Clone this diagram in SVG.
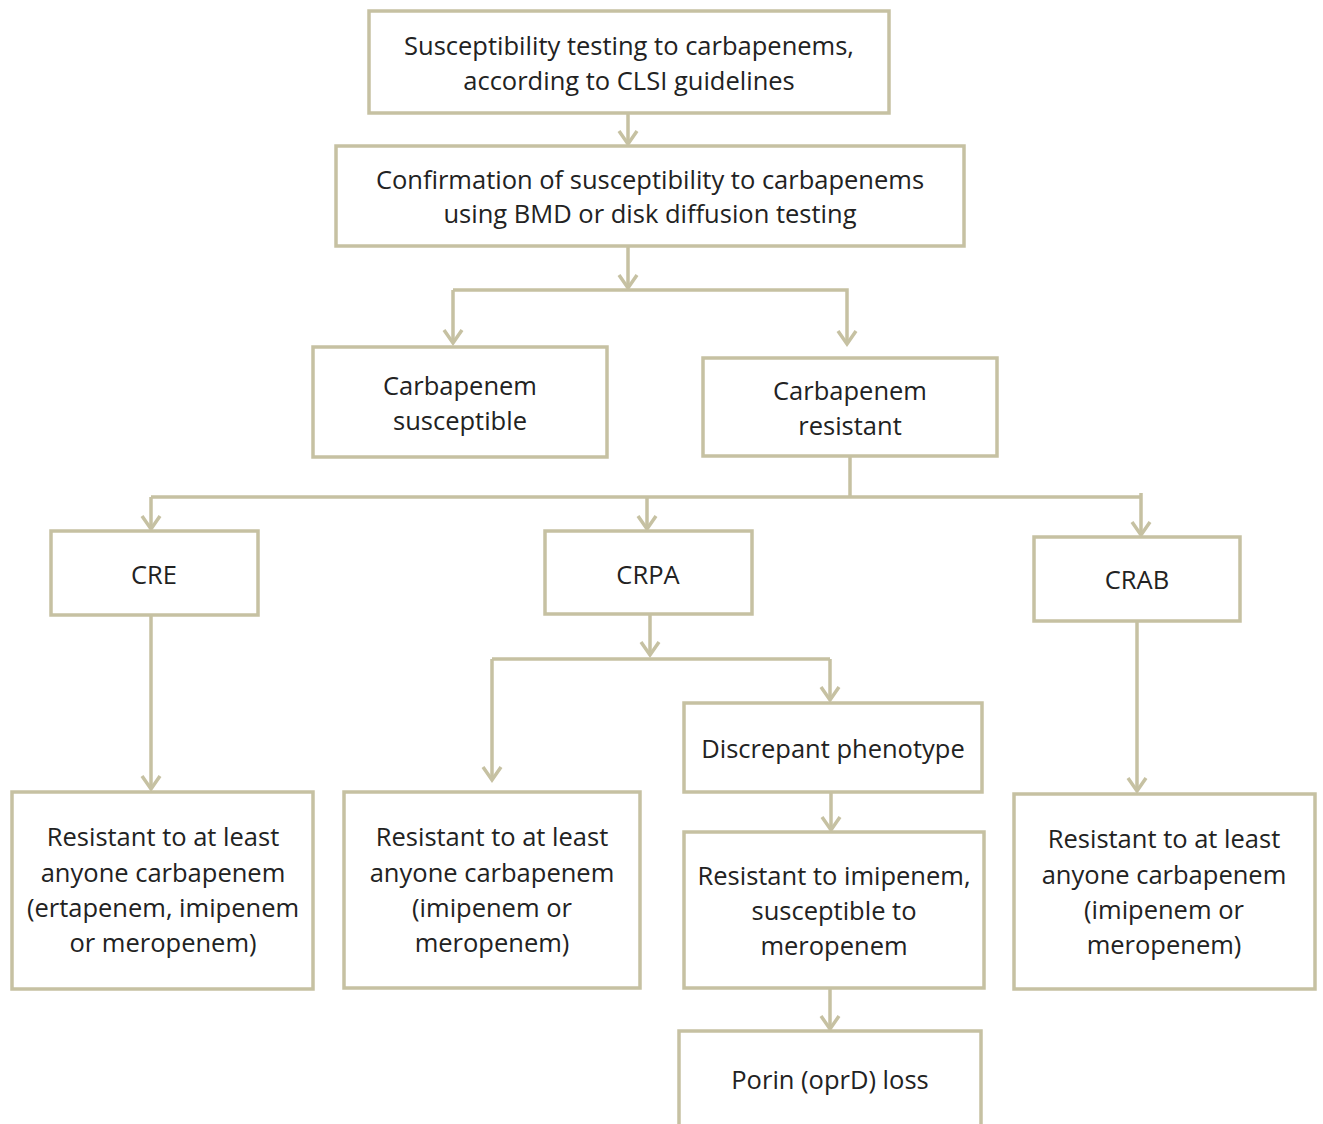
<svg xmlns="http://www.w3.org/2000/svg" width="1323" height="1124" viewBox="0 0 1323 1124">
<defs>
<style>
.box{fill:#fff;stroke:#c6c1a2;stroke-width:3.5}
.t{font-family:"Open Sans","Liberation Sans",sans-serif;font-size:25.5px;fill:#222;text-anchor:middle}
.c{fill:none;stroke:#c6c1a2;stroke-width:3.5}
</style>
<marker id="ah" markerWidth="24" markerHeight="24" viewBox="-16 -12 20 24" refX="0" refY="0" orient="auto" markerUnits="userSpaceOnUse">
<polyline points="-13,-9 0,0 -13,9" fill="none" stroke="#c6c1a2" stroke-width="3.5"/>
</marker>
</defs>
<rect width="1323" height="1124" fill="#fff"/>
<g id="connectors">
<path class="c" d="M628,113 V144" marker-end="url(#ah)"/>
<path class="c" d="M628,246 V288"  marker-end="url(#ah)"/>
<path class="c" d="M453,290 H847 V344" marker-end="url(#ah)"/>
<path class="c" d="M453,290 V343" marker-end="url(#ah)"/>
<path class="c" d="M850,456 V497"/>
<path class="c" d="M151,497 H1141"/>
<path class="c" d="M151,497 V529" marker-end="url(#ah)"/>
<path class="c" d="M647,497 V529" marker-end="url(#ah)"/>
<path class="c" d="M1141,493 V535" marker-end="url(#ah)"/>
<path class="c" d="M151,615 V789" marker-end="url(#ah)"/>
<path class="c" d="M650,614 V655" marker-end="url(#ah)"/>
<path class="c" d="M492,659 H830"/>
<path class="c" d="M492,659 V780" marker-end="url(#ah)"/>
<path class="c" d="M830,659 V700" marker-end="url(#ah)"/>
<path class="c" d="M831,792 V830" marker-end="url(#ah)"/>
<path class="c" d="M830,988 V1029" marker-end="url(#ah)"/>
<path class="c" d="M1137,621 V791" marker-end="url(#ah)"/>
</g>
<g id="n1"><rect class="box" x="369" y="11" width="520" height="102"/><text class="t" x="629" y="55">Susceptibility testing to carbapenems,</text><text class="t" x="629" y="90">according to CLSI guidelines</text></g>
<g id="n2"><rect class="box" x="336" y="146" width="628" height="100"/><text class="t" x="650" y="189">Confirmation of susceptibility to carbapenems</text><text class="t" x="650" y="223">using BMD or disk diffusion testing</text></g>
<g id="n3"><rect class="box" x="313" y="347" width="294" height="110"/><text class="t" x="460" y="395">Carbapenem</text><text class="t" x="460" y="430">susceptible</text></g>
<g id="n4"><rect class="box" x="703" y="358" width="294" height="98"/><text class="t" x="850" y="400">Carbapenem</text><text class="t" x="850" y="435">resistant</text></g>
<g id="n5"><rect class="box" x="51" y="531" width="207" height="84"/><text class="t" x="154" y="584">CRE</text></g>
<g id="n6"><rect class="box" x="545" y="531" width="207" height="83"/><text class="t" x="648" y="584">CRPA</text></g>
<g id="n7"><rect class="box" x="1034" y="537" width="206" height="84"/><text class="t" x="1137" y="589">CRAB</text></g>
<g id="n8"><rect class="box" x="684" y="703" width="298" height="89"/><text class="t" x="833" y="758">Discrepant phenotype</text></g>
<g id="n9"><rect class="box" x="12" y="792" width="301" height="197"/><text class="t" x="163" y="846">Resistant to at least</text><text class="t" x="163" y="882">anyone carbapenem</text><text class="t" x="163" y="917">(ertapenem, imipenem</text><text class="t" x="163" y="952">or meropenem)</text></g>
<g id="n10"><rect class="box" x="344" y="792" width="296" height="196"/><text class="t" x="492" y="846">Resistant to at least</text><text class="t" x="492" y="882">anyone carbapenem</text><text class="t" x="492" y="917">(imipenem or</text><text class="t" x="492" y="952">meropenem)</text></g>
<g id="n11"><rect class="box" x="684" y="832" width="300" height="156"/><text class="t" x="834" y="885">Resistant to imipenem,</text><text class="t" x="834" y="920">susceptible to</text><text class="t" x="834" y="955">meropenem</text></g>
<g id="n12"><rect class="box" x="1014" y="794" width="301" height="195"/><text class="t" x="1164" y="848">Resistant to at least</text><text class="t" x="1164" y="884">anyone carbapenem</text><text class="t" x="1164" y="919">(imipenem or</text><text class="t" x="1164" y="954">meropenem)</text></g>
<g id="n13"><rect class="box" x="679" y="1031" width="302" height="110"/><text class="t" x="830" y="1089">Porin (oprD) loss</text></g>
</svg>
